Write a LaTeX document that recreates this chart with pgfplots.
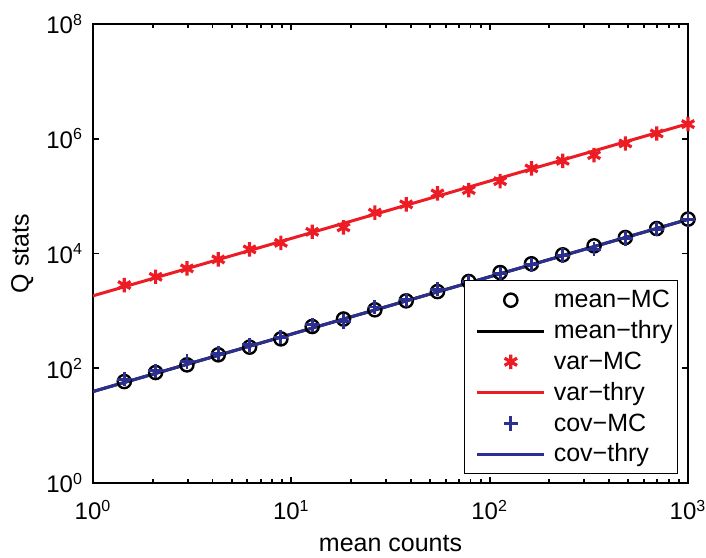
\documentclass[border=0pt]{standalone}
\usepackage{fontspec}
\setmainfont{Liberation Sans}
\usepackage{pgfplots}
\pgfplotsset{compat=1.18}
\usetikzlibrary{calc}

\definecolor{mred}{RGB}{237,28,36}
\definecolor{mblue}{RGB}{43,47,143}

\pgfplotsset{
  mcleg/.style={legend image code/.code={
      \path[draw=none] (0pt,0pt) -- (37.5pt,0pt);
      \draw[##1] plot[only marks] coordinates {(20.75pt,0pt)};}},
}

\begin{document}
\begin{tikzpicture}
\begin{loglogaxis}[
    name=ax,
    scale only axis,
    width=297.5pt, height=229.5pt,
    xmin=1, xmax=1000, ymin=1, ymax=1e8,
    xtick={1,10,100,1000},
    xticklabels={10\textsuperscript{0},10\textsuperscript{1},10\textsuperscript{2},10\textsuperscript{3}},
    ytick={1,100,10000,1000000,100000000},
    yticklabels={10\textsuperscript{0},10\textsuperscript{2},10\textsuperscript{4},10\textsuperscript{6},10\textsuperscript{8}},
    yminorticks=false,
    tick align=inside,
    major tick length=3.2pt, minor tick length=1.8pt,
    axis line style={line width=1.4pt},
    every tick/.style={black, line width=0.9pt},
    tick label style={font=\fontsize{12}{14}\selectfont},
    xticklabel style={yshift=-5pt},
    yticklabel style={xshift=-1.5pt},
    label style={font=\fontsize{12.5}{15}\selectfont},
    xlabel={mean counts}, ylabel={Q stats},
    xlabel style={at={(axis description cs:0.5,-0.1500)}, anchor=base},
    ylabel style={at={(axis description cs:-0.1080,0.5)}, anchor=base},
    legend cell align=left,
    legend style={at={(axis description cs:1,0)}, anchor=south east,
        xshift=-5pt, yshift=4.5pt, draw=black, fill=white,
        font=\fontsize{12.5}{15}\selectfont,
        inner xsep=2.5pt, inner ysep=2pt, row sep=0pt, column sep=4pt,
        nodes={inner sep=0pt, text height=11.5pt, text depth=3.9pt}},
    legend image code/.code={
        \path[draw=none] (0pt,0pt) -- (37.5pt,0pt);
        \draw[#1] plot coordinates {(4pt,0pt) (37.5pt,0pt)};},
]
% mean, Monte Carlo
\addplot[only marks, mark=o, black, line width=1.2pt, mark size=3.3pt, mcleg] coordinates {
  (1.438,58.6) (2.069,84.3) (2.976,114.6) (4.281,171.6) (6.158,233.3)
  (8.859,325.2) (12.74,533.9) (18.33,720.4) (26.37,1044.5) (37.93,1496)
  (54.56,2170) (78.48,3251) (112.9,4654) (162.4,6618) (233.6,9482)
  (336.0,13574) (483.3,18993) (695.2,27210) (1000,39770)
};
% mean, theory
\addplot[black, line width=1.5pt] coordinates {
  (1,39.3) (1.438,56.53) (2.069,81.32) (2.976,116.97) (4.281,168.25)
  (6.158,242.03) (8.859,348.15) (12.74,500.8) (18.33,720.37) (26.37,1036.2)
  (37.93,1490.5) (54.56,2144.1) (78.48,3084.1) (112.9,4436.2) (162.4,6381.5)
  (233.6,9179.3) (336.0,13204) (483.3,18993) (695.2,27321) (1000,39300)
};
% variance, Monte Carlo
\addplot[only marks, mark=asterisk, mred, line width=1.6pt, mark size=3.6pt, mcleg] coordinates {
  (1.438,2814) (2.069,3930) (2.976,5500) (4.281,7890) (6.158,11790)
  (8.859,15350) (12.74,23900) (18.33,28500) (26.37,51600) (37.93,71900)
  (54.56,111400) (78.48,127300) (112.9,182500) (162.4,304000) (233.6,412000)
  (336.0,518000) (483.3,828000) (695.2,1236000) (1000,1800000)
};
% variance, theory
\addplot[mred, line width=1.5pt] coordinates {
  (1,1830) (1.438,2632) (2.069,3786) (2.976,5447) (4.281,7835)
  (6.158,11270) (8.859,16211) (12.74,23320) (18.33,33544) (26.37,48252)
  (37.93,69406) (54.56,99837) (78.48,143611) (112.9,206570) (162.4,297155)
  (233.6,427433) (336.0,614843) (483.3,884421) (695.2,1272198) (1000,1830000)
};
% covariance, Monte Carlo
\addplot[only marks, mark=+, mblue, line width=1.4pt, mark size=3.6pt, mcleg] coordinates {
  (1.438,64.6) (2.069,90.3) (2.976,130.9) (4.281,183.7) (6.158,256.1)
  (8.859,348.2) (12.74,571.9) (18.33,651.9) (26.37,1163.7) (37.93,1557.6)
  (54.56,2390.7) (78.48,3210) (112.9,4430) (162.4,6375) (233.6,9179)
  (336.0,11897) (483.3,18253) (695.2,26556) (1000,39300)
};
% covariance, theory
\addplot[mblue, line width=1.5pt] coordinates {
  (1,39.3) (1.438,56.53) (2.069,81.32) (2.976,116.97) (4.281,168.25)
  (6.158,242.03) (8.859,348.15) (12.74,500.8) (18.33,720.37) (26.37,1036.2)
  (37.93,1490.5) (54.56,2144.1) (78.48,3084.1) (112.9,4436.2) (162.4,6381.5)
  (233.6,9179.3) (336.0,13204) (483.3,18993) (695.2,27321) (1000,39300)
};
\legend{mean−MC, mean−thry, var−MC, var−thry, cov−MC, cov−thry}
\end{loglogaxis}
\pgfresetboundingbox
\path[use as bounding box] ($(ax.south west)+(-46.5pt,-37pt)$) rectangle ($(ax.north east)+(9pt,12pt)$);
\end{tikzpicture}
\end{document}
